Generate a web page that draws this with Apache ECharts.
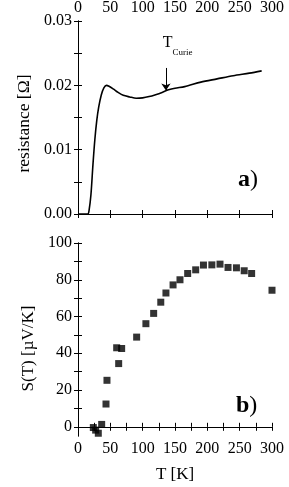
<!DOCTYPE html>
<html><head><meta charset="utf-8">
<script src="https://cdn.jsdelivr.net/npm/echarts@6/dist/echarts.min.js"></script>
<style>html,body{margin:0;padding:0;background:#fff}#c{width:289px;height:487px}</style>
</head><body><div id="c"></div>
<script>
// Panel a: resistance vs T
const resT = [0, 10, 15, 17, 20, 23, 26, 29, 32, 36, 40, 44, 48, 55, 62, 70, 80, 90, 100, 110, 120, 130, 140, 150, 165, 190, 215, 240, 265, 284];
const resR = [0, 0, 0, 0.0005, 0.003, 0.0075, 0.0115, 0.0145, 0.0166, 0.0185, 0.0196, 0.0200, 0.01985, 0.0194, 0.0189, 0.01845, 0.0182, 0.0180, 0.01805, 0.01825, 0.01855, 0.0189, 0.0193, 0.01955, 0.0198, 0.0205, 0.0210, 0.0215, 0.0219, 0.02225];
// Panel b: Seebeck coefficient vs T
const seeT = [23.7, 27.3, 31.4, 36.6, 43.3, 44.8, 59.8, 67.5, 62.9, 90.7, 105, 117, 128, 136, 147, 157.7, 169.6, 182, 194, 207, 219.6, 232, 245, 257, 268.5, 300];
const seeS = [-0.4, -1.8, -3.5, 1.3, 12.4, 25.3, 43, 42.6, 34.4, 48.8, 56.1, 61.7, 67.8, 72.8, 77.2, 80, 83.4, 85.4, 88, 88.1, 88.5, 86.7, 86.5, 84.9, 83.4, 74.3];
// Axis ticks
const tempTicks = [0, 50, 100, 150, 200, 250, 300];
const resTicks = [0, 0.01, 0.02, 0.03];
const seeLabelTicks = [0, 20, 40, 60, 80, 100];
const seeMinorTicks = [0, 10, 20, 30, 40, 50, 60, 70, 80, 90, 100];
// Curie annotation
const curieT = 136;
const curieArrow = [0.0227, 0.0192];
const curieLabel = [131, 0.0261];

const F = 'Liberation Serif';
const base = {
  axisLine: {show: true, lineStyle: {color: '#000', width: 1}},
  splitLine: {show: false},
  axisTick: {show: true, inside: true, length: 4, lineStyle: {color: '#000'}},
  axisLabel: {color: '#000', fontFamily: F, fontSize: 16, margin: 5},
  nameTextStyle: {color: '#000', fontFamily: F, fontSize: 16}
};
function ax(o) { return Object.assign({}, JSON.parse(JSON.stringify(base)), o); }
const minor = {show: true, splitNumber: 2, length: 4, lineStyle: {color: '#000'}};

const option = {
  animation: false,
  backgroundColor: '#fff',
  grid: [
    {left: 78, right: 17, top: 20, height: 194},
    {left: 78, right: 17, top: 243, height: 193}
  ],
  xAxis: [
    ax({gridIndex: 0, type: 'value', position: 'top', min: 0, max: 300, interval: 50}),
    ax({gridIndex: 0, type: 'value', position: 'bottom', min: 0, max: 300, interval: 50, axisLabel: {show: false}}),
    ax({gridIndex: 1, type: 'value', position: 'bottom', min: 0, max: 300, interval: 50, minorTick: minor,
        name: 'T [K]', nameLocation: 'middle', nameGap: 30,
        nameTextStyle: {color: '#000', fontFamily: F, fontSize: 17}}),
    ax({gridIndex: 1, type: 'value', position: 'top', min: 0, max: 300, interval: 50, minorTick: minor, axisLabel: {show: false}})
  ],
  yAxis: [
    ax({gridIndex: 0, type: 'value', position: 'left', min: 0, max: 0.03, interval: 0.01, minorTick: minor,
        axisLabel: {color: '#000', fontFamily: F, fontSize: 16, margin: 6, formatter: v => v.toFixed(2)},
        name: 'resistance [Ω]', nameLocation: 'middle', nameGap: 44,
        nameTextStyle: {color: '#000', fontFamily: F, fontSize: 17.5, padding: [0, 12, 0, 0]}}),
    ax({gridIndex: 0, type: 'value', position: 'right', min: 0, max: 0.03, interval: 0.01, minorTick: minor, axisLabel: {show: false}}),
    ax({gridIndex: 1, type: 'value', position: 'left', min: -5, max: 100,
        axisLabel: {color: '#000', fontFamily: F, fontSize: 16, margin: 6, customValues: seeLabelTicks},
        axisTick: {show: true, inside: true, length: 4, lineStyle: {color: '#000'}, customValues: seeMinorTicks},
        name: 'S(T) [µV/K]', nameLocation: 'middle', nameGap: 39,
        nameTextStyle: {color: '#000', fontFamily: F, fontSize: 17, padding: [0, 18, 0, 0]}}),
    ax({gridIndex: 1, type: 'value', position: 'right', min: -5, max: 100,
        axisLabel: {show: false, customValues: seeLabelTicks},
        axisTick: {show: true, inside: true, length: 4, lineStyle: {color: '#000'}, customValues: seeMinorTicks}})
  ],
  series: [
    {
      type: 'line', xAxisIndex: 0, yAxisIndex: 0, smooth: 0.3, showSymbol: false, symbol: 'none',
      data: resT.map((t, i) => [t, resR[i]]),
      lineStyle: {color: '#000', width: 1.6},
      markLine: {
        silent: true, symbol: ['none', 'arrow'], symbolSize: 7,
        lineStyle: {color: '#000', width: 1, type: 'solid'},
        label: {show: false},
        data: [[{coord: [curieT, curieArrow[0]]}, {coord: [curieT, curieArrow[1]]}]]
      },
      markPoint: {
        silent: true, symbol: 'circle', symbolSize: 0,
        data: [{coord: curieLabel}],
        label: {
          show: true, position: [0, 0], align: 'left', verticalAlign: 'middle',
          formatter: '{t|T}{s|Curie}',
          rich: {
            t: {fontFamily: F, fontSize: 16, color: '#000', lineHeight: 22, verticalAlign: 'top'},
            s: {fontFamily: F, fontSize: 9, color: '#000', lineHeight: 22, verticalAlign: 'bottom'}
          }
        }
      }
    },
    {
      type: 'scatter', xAxisIndex: 2, yAxisIndex: 2, symbol: 'rect', symbolSize: 7,
      data: seeT.map((t, i) => [t, seeS[i]]),
      itemStyle: {color: '#000'}
    }
  ],
  graphic: [
    {type: 'text', left: 238, top: 168, style: {text: '{b|a}{n|)}', rich: {
      b: {fontFamily: F, fontSize: 24, fontWeight: 'bold', fill: '#000'},
      n: {fontFamily: F, fontSize: 24, fill: '#000'}}}},
    {type: 'text', left: 236, top: 394, style: {text: '{b|b}{n|)}', rich: {
      b: {fontFamily: F, fontSize: 24, fontWeight: 'bold', fill: '#000'},
      n: {fontFamily: F, fontSize: 24, fill: '#000'}}}}
  ]
};
const chart = echarts.init(document.getElementById('c'), null, {renderer: 'canvas'});
chart.setOption(option);
</script></body></html>
